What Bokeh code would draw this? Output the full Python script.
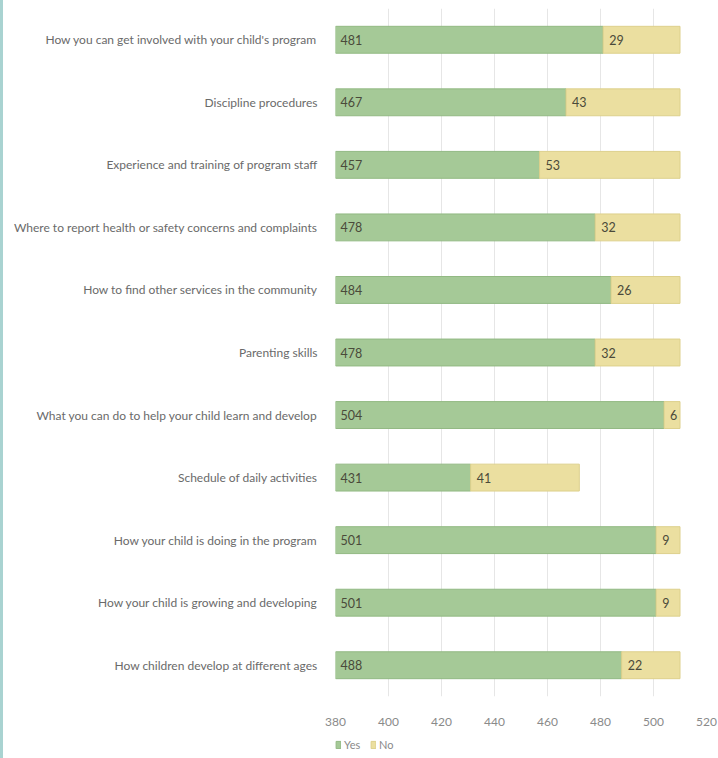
from bokeh.plotting import figure
from bokeh.models import ColumnDataSource, Legend, LegendItem, FactorRange, Range1d
from bokeh.layouts import column
from bokeh.core.properties import value
from bokeh.embed import file_html
from bokeh.resources import INLINE

categories = [
    "How you can get involved with your child's program",
    "Discipline procedures",
    "Experience and training of program staff",
    "Where to report health or safety concerns and complaints",
    "How to find other services in the community",
    "Parenting skills",
    "What you can do to help your child learn and develop",
    "Schedule of daily activities",
    "How your child is doing in the program",
    "How your child is growing and developing",
    "How children develop at different ages",
]
yes_vals = [481, 467, 457, 478, 484, 478, 504, 431, 501, 501, 488]
no_vals = [29, 43, 53, 32, 26, 32, 6, 41, 9, 9, 22]
x_ticks = [380, 400, 420, 440, 460, 480, 500, 520]
series_names = ["Yes", "No"]

FONT = "Lato"
GREEN = "#a5c997"
GREEN_LINE = "#92b983"
YELLOW = "#ebdfa0"
YELLOW_LINE = "#ddd08c"

totals = [y + n for y, n in zip(yes_vals, no_vals)]
src = ColumnDataSource(dict(
    cat=categories, yes=yes_vals, no=no_vals, total=totals,
    zero=[0] * len(categories),
    yes_lbl=[str(v) for v in yes_vals], no_lbl=[str(v) for v in no_vals],
    start=[x_ticks[0]] * len(categories),
))

p = figure(
    y_range=FactorRange(*list(reversed(categories))),
    x_range=(380, 520),
    width=715, height=730,
    output_backend="svg", toolbar_location=None,
    min_border_left=332, min_border_right=12, min_border_top=8, min_border_bottom=34,
)
p.outline_line_color = None

p.hbar(y="cat", left="zero", right="yes", height=0.43, source=src,
       fill_color=GREEN, line_color=GREEN_LINE, line_width=1)
p.hbar(y="cat", left="yes", right="total", height=0.43, source=src,
       fill_color=YELLOW, line_color=YELLOW_LINE, line_width=1)

p.text(x="start", y="cat", text="yes_lbl", source=src, x_offset=5,
       text_baseline="middle", text_align="left", text_font=value(FONT),
       text_font_size="12.5px", text_color="#4a4a3a")
p.text(x="yes", y="cat", text="no_lbl", source=src, x_offset=6,
       text_baseline="middle", text_align="left", text_font=value(FONT),
       text_font_size="12.5px", text_color="#4a4a3a")

p.xaxis.ticker = x_ticks
p.xaxis.axis_line_color = None
p.xaxis.major_tick_line_color = None
p.xaxis.minor_tick_line_color = None
p.xaxis.major_label_standoff = 15
p.xaxis.major_label_text_font = FONT
p.xaxis.major_label_text_font_size = "12px"
p.xaxis.major_label_text_color = "#8a8a8a"

p.yaxis.axis_line_color = None
p.yaxis.major_tick_line_color = None
p.yaxis.minor_tick_line_color = None
p.yaxis.major_label_standoff = 12
p.yaxis.major_label_text_font = FONT
p.yaxis.major_label_text_font_size = "12px"
p.yaxis.major_label_text_color = "#6a6a6a"

p.ygrid.grid_line_color = None
p.xgrid.grid_line_color = "#e6e6e6"
p.xgrid.grid_line_width = 1

# legend strip below the chart (its frame is aligned with the chart's frame)
lg = figure(width=715, height=28, output_backend="svg", toolbar_location=None,
            x_range=Range1d(0, 1), y_range=Range1d(0, 1),
            min_border_left=0, min_border_right=0, min_border_top=0, min_border_bottom=0,
            x_axis_type=None, y_axis_type=None)
lg.outline_line_color = None
lg.grid.visible = False
# proxy glyphs placed outside the visible range; they only feed the legend swatches
proxy = ColumnDataSource(dict(y=[-5], l=[-5], r=[-4]))
g_yes = lg.hbar(y="y", left="l", right="r", height=0.5, source=proxy,
                fill_color=GREEN, line_color=GREEN_LINE)
g_no = lg.hbar(y="y", left="l", right="r", height=0.5, source=proxy,
               fill_color=YELLOW, line_color=YELLOW_LINE)
legend = Legend(items=[LegendItem(label=series_names[0], renderers=[g_yes]),
                       LegendItem(label=series_names[1], renderers=[g_no])],
                orientation="horizontal", location=(0, 7),
                label_text_font=FONT, label_text_font_size="11px",
                label_text_color="#8a8a8a", glyph_width=6, glyph_height=9,
                label_standoff=3, spacing=6, padding=0, margin=0,
                label_height=12,
                border_line_color=None, background_fill_alpha=0)
lg.add_layout(legend)

layout = column(p, lg, spacing=0, styles={"border-left": "3px solid #a9d3d1"})

open("out.html", "w").write(file_html(layout, INLINE))
